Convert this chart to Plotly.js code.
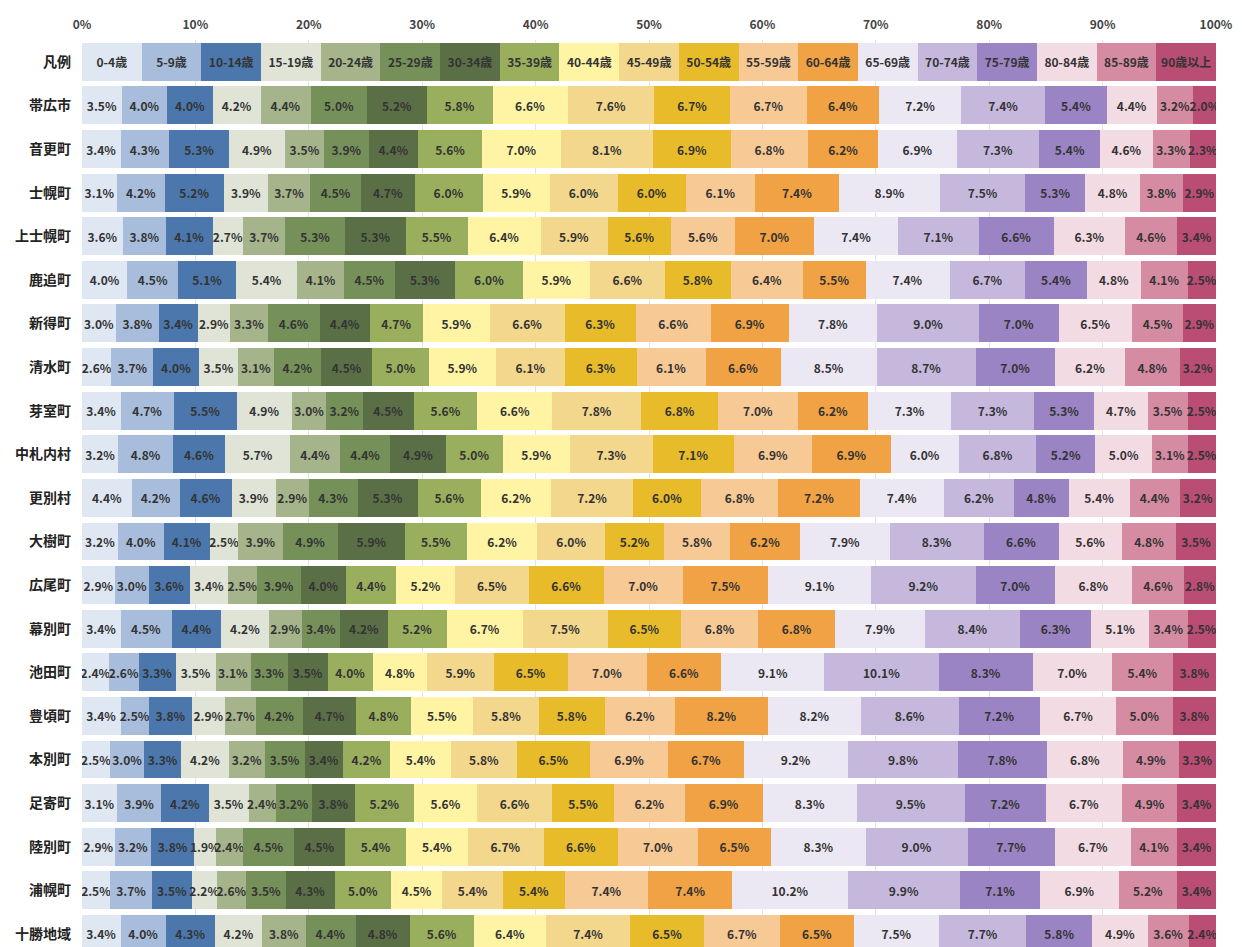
<!DOCTYPE html>
<html><head><meta charset="utf-8">
<script src="https://cdn.plot.ly/plotly-3.0.1.min.js"></script>
<style>html,body{margin:0;padding:0;background:#fff;}#chart{width:1242px;height:947px;}</style>
</head><body><div id="chart"></div>
<script>
const ageGroups = ['0-4歳','5-9歳','10-14歳','15-19歳','20-24歳','25-29歳','30-34歳','35-39歳','40-44歳','45-49歳','50-54歳','55-59歳','60-64歳','65-69歳','70-74歳','75-79歳','80-84歳','85-89歳','90歳以上'];
const legendRow = '凡例';
const areas = ['帯広市','音更町','士幌町','上士幌町','鹿追町','新得町','清水町','芽室町','中札内村','更別村','大樹町','広尾町','幕別町','池田町','豊頃町','本別町','足寄町','陸別町','浦幌町','十勝地域'];
const obihiro   = [3.5,4.0,4.0,4.2,4.4,5.0,5.2,5.8,6.6,7.6,6.7,6.7,6.4,7.2,7.4,5.4,4.4,3.2,2.0];
const otofuke   = [3.4,4.3,5.3,4.9,3.5,3.9,4.4,5.6,7.0,8.1,6.9,6.8,6.2,6.9,7.3,5.4,4.6,3.3,2.3];
const shihoro   = [3.1,4.2,5.2,3.9,3.7,4.5,4.7,6.0,5.9,6.0,6.0,6.1,7.4,8.9,7.5,5.3,4.8,3.8,2.9];
const kamishihoro=[3.6,3.8,4.1,2.7,3.7,5.3,5.3,5.5,6.4,5.9,5.6,5.6,7.0,7.4,7.1,6.6,6.3,4.6,3.4];
const shikaoi   = [4.0,4.5,5.1,5.4,4.1,4.5,5.3,6.0,5.9,6.6,5.8,6.4,5.5,7.4,6.7,5.4,4.8,4.1,2.5];
const shintoku  = [3.0,3.8,3.4,2.9,3.3,4.6,4.4,4.7,5.9,6.6,6.3,6.6,6.9,7.8,9.0,7.0,6.5,4.5,2.9];
const shimizu   = [2.6,3.7,4.0,3.5,3.1,4.2,4.5,5.0,5.9,6.1,6.3,6.1,6.6,8.5,8.7,7.0,6.2,4.8,3.2];
const memuro    = [3.4,4.7,5.5,4.9,3.0,3.2,4.5,5.6,6.6,7.8,6.8,7.0,6.2,7.3,7.3,5.3,4.7,3.5,2.5];
const nakasatsunai=[3.2,4.8,4.6,5.7,4.4,4.4,4.9,5.0,5.9,7.3,7.1,6.9,6.9,6.0,6.8,5.2,5.0,3.1,2.5];
const sarabetsu = [4.4,4.2,4.6,3.9,2.9,4.3,5.3,5.6,6.2,7.2,6.0,6.8,7.2,7.4,6.2,4.8,5.4,4.4,3.2];
const taiki     = [3.2,4.0,4.1,2.5,3.9,4.9,5.9,5.5,6.2,6.0,5.2,5.8,6.2,7.9,8.3,6.6,5.6,4.8,3.5];
const hiroo     = [2.9,3.0,3.6,3.4,2.5,3.9,4.0,4.4,5.2,6.5,6.6,7.0,7.5,9.1,9.2,7.0,6.8,4.6,2.8];
const makubetsu = [3.4,4.5,4.4,4.2,2.9,3.4,4.2,5.2,6.7,7.5,6.5,6.8,6.8,7.9,8.4,6.3,5.1,3.4,2.5];
const ikeda     = [2.4,2.6,3.3,3.5,3.1,3.3,3.5,4.0,4.8,5.9,6.5,7.0,6.6,9.1,10.1,8.3,7.0,5.4,3.8];
const toyokoro  = [3.4,2.5,3.8,2.9,2.7,4.2,4.7,4.8,5.5,5.8,5.8,6.2,8.2,8.2,8.6,7.2,6.7,5.0,3.8];
const honbetsu  = [2.5,3.0,3.3,4.2,3.2,3.5,3.4,4.2,5.4,5.8,6.5,6.9,6.7,9.2,9.8,7.8,6.8,4.9,3.3];
const ashoro    = [3.1,3.9,4.2,3.5,2.4,3.2,3.8,5.2,5.6,6.6,5.5,6.2,6.9,8.3,9.5,7.2,6.7,4.9,3.4];
const rikubetsu = [2.9,3.2,3.8,1.9,2.4,4.5,4.5,5.4,5.4,6.7,6.6,7.0,6.5,8.3,9.0,7.7,6.7,4.1,3.4];
const urahoro   = [2.5,3.7,3.5,2.2,2.6,3.5,4.3,5.0,4.5,5.4,5.4,7.4,7.4,10.2,9.9,7.1,6.9,5.2,3.4];
const tokachi   = [3.4,4.0,4.3,4.2,3.8,4.4,4.8,5.6,6.4,7.4,6.5,6.7,6.5,7.5,7.7,5.8,4.9,3.6,2.4];
const rows = [obihiro,otofuke,shihoro,kamishihoro,shikaoi,shintoku,shimizu,memuro,nakasatsunai,sarabetsu,taiki,hiroo,makubetsu,ikeda,toyokoro,honbetsu,ashoro,rikubetsu,urahoro,tokachi];
const xTicks = [0,10,20,30,40,50,60,70,80,90,100];

const colors = ['#dfe7f3','#a8bddc','#4b77ac','#dfe4d6','#a5b48b','#76905a','#5b6f47','#9aaf5e','#fef4a4','#f3d78c','#e8bb2b','#f7c995','#f1a244','#ece8f3','#c5b8dc','#9b84c3','#f3dbe3','#d58ca3','#ba4d74'];

const FONT = '"Noto Sans CJK JP", "Noto Sans", sans-serif';
const yCats = [legendRow].concat(areas);
const traces = ageGroups.map((g, i) => ({
  type: 'bar',
  orientation: 'h',
  name: g,
  y: yCats,
  x: [1].concat(rows.map(r => r[i])),
  text: [g].concat(rows.map(r => r[i].toFixed(1) + '%')),
  textposition: 'inside',
  insidetextanchor: 'middle',
  textangle: 0,
  textfont: {family: FONT, size: 12, color: '#333', weight: 600},
  marker: {color: colors[i], line: {width: 0}},
  hoverinfo: 'name+text'
}));

const layout = {
  width: 1242, height: 947,
  margin: {l: 82, r: 26, t: 40, b: 0, autoexpand: false},
  barmode: 'stack',
  barnorm: 'percent',
  bargap: 0.13,
  showlegend: false,
  paper_bgcolor: '#fff',
  plot_bgcolor: '#fff',
  uniformtext: {mode: 'show', minsize: 12},
  xaxis: {
    side: 'top', range: [0, 100], tickvals: xTicks, ticktext: xTicks.map(v => v + '%'),
    showgrid: true, gridcolor: '#e4e4e4', gridwidth: 1, zeroline: false, showline: false,
    ticks: '', ticklabelstandoff: 8,
    tickfont: {family: FONT, size: 12, color: '#444', weight: 600},
    fixedrange: true
  },
  yaxis: {
    type: 'category', categoryorder: 'array', categoryarray: yCats,
    range: [20.3, -0.5], showgrid: false, zeroline: false, showline: false, ticks: '',
    ticklabelstandoff: 10,
    tickfont: {family: FONT, size: 14, color: '#222', weight: 700},
    fixedrange: true
  }
};
Plotly.newPlot('chart', traces, layout, {displayModeBar: false, staticPlot: true});
</script></body></html>
